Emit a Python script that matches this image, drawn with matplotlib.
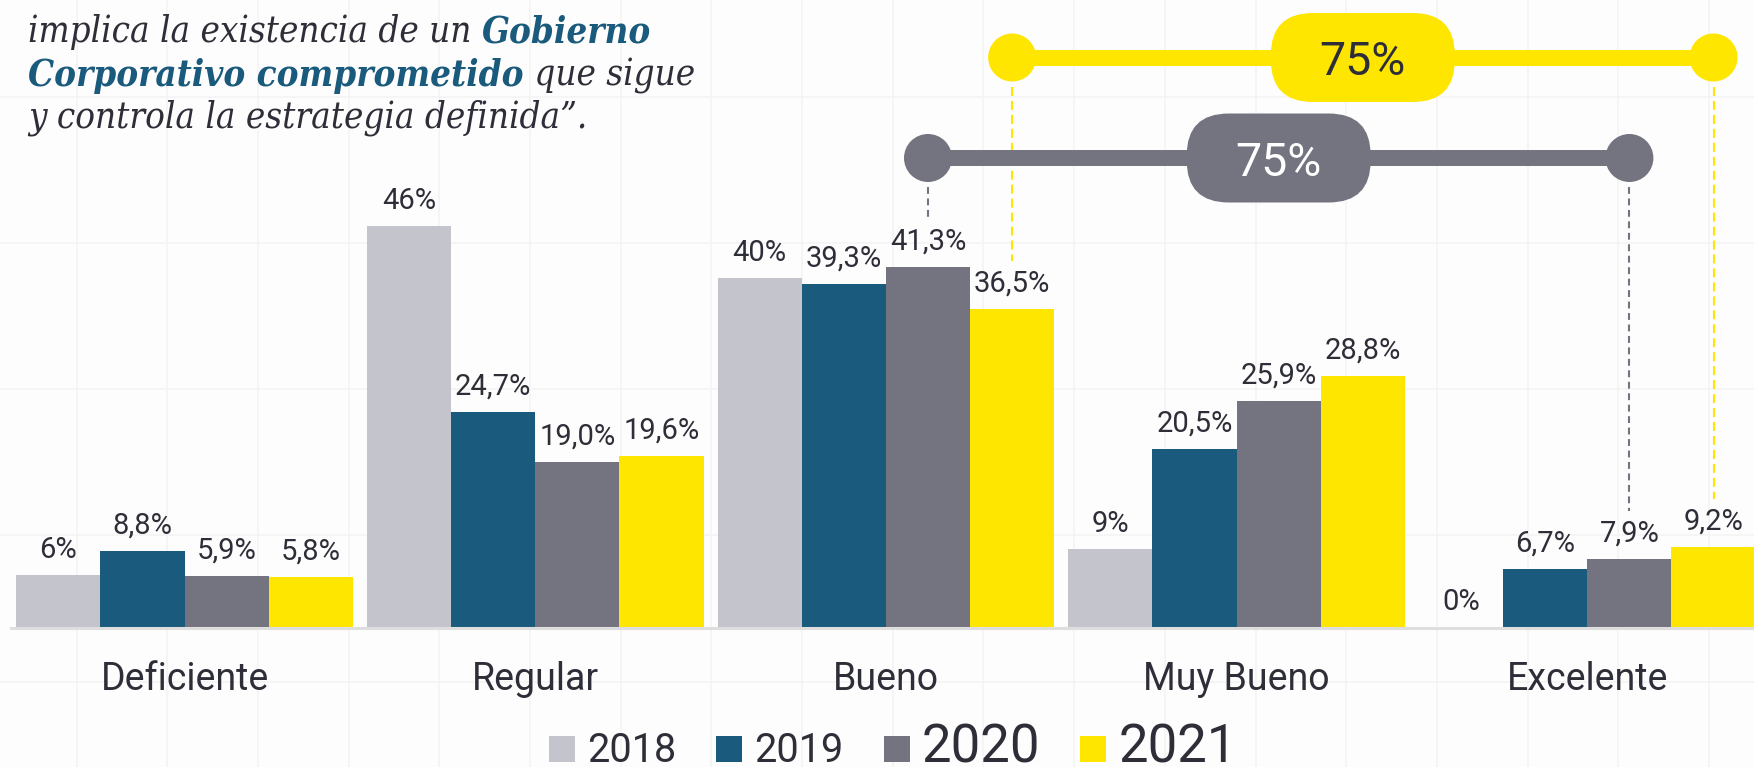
import matplotlib
matplotlib.use("Agg")
import matplotlib.pyplot as plt
from matplotlib.patches import FancyBboxPatch, Circle
import numpy as np

plt.rcParams['font.family'] = ['Roboto', 'DejaVu Sans']

# ---------------- data ----------------
categories = ["Deficiente", "Regular", "Bueno", "Muy Bueno", "Excelente"]
years = ["2018", "2019", "2020", "2021"]
v2018 = [6, 46, 40, 9, 0]
v2019 = [8.8, 24.7, 39.3, 20.5, 6.7]
v2020 = [5.9, 19.0, 41.3, 25.9, 7.9]
v2021 = [5.8, 19.6, 36.5, 28.8, 9.2]
label_decimals = [0, 1, 1, 1]
legend_sizes = [28.5, 28.5, 38, 38]
range_first, range_last = 2, 4          # Bueno .. Excelente

quote_lines = [
    [("implica la existencia de un ", False), ("Gobierno", True)],
    [("Corporativo comprometido", True), (" que sigue", False)],
    [("y controla la estrategia definida\u201d.", False)],
]

# ---------------- style ----------------
C = ['#C4C4CD', '#1A5A7C', '#747480', '#FFE600']
TXT = '#2E2E38'
BLUE = '#1A5A7C'
W, H = 1754, 767
base_px, ppu, ymax = 627.5, 8.73, 70

fig = plt.figure(figsize=(W / 100, H / 100), dpi=100, facecolor='#FDFDFD')

# background faint grid
bg = fig.add_axes([0, 0, 1, 1], zorder=0)
bg.set_xlim(0, W); bg.set_ylim(H, 0); bg.axis('off')
for yy in np.arange(96.5, H, 146.3):
    bg.axhline(yy, color='#F3F3F5', lw=1.1)
for xx in np.arange(76.5, W, 90.7):
    bg.axvline(xx, color='#F3F3F5', lw=1.1)

# main axes
ax = fig.add_axes([0, (H - base_px) / H, 1, ymax * ppu / H], zorder=1)
ax.set_facecolor('none')
ax.set_xlim(-0.5261, 4.4753)
ax.set_ylim(0, ymax)

x = np.arange(len(categories))
w = 0.24
offsets = (np.arange(4) - 1.5) * w
series = [v2018, v2019, v2020, v2021]
bars = []
for i, (vals, col, yr) in enumerate(zip(series, C, years)):
    b = ax.bar(x + offsets[i], vals, w, color=col, label=yr, linewidth=0)
    bars.append(b)
    for xi, v in zip(x + offsets[i], vals):
        txt = f"{v:.{label_decimals[i]}f}".replace('.', ',') + '%'
        ax.annotate(txt, (xi, v), xytext=(0, 12.5), textcoords='offset points',
                    ha='center', va='baseline', fontsize=21, color=TXT)

for s in ['top', 'left', 'right']:
    ax.spines[s].set_visible(False)
ax.spines['bottom'].set_color('#DEDEDF')
ax.spines['bottom'].set_linewidth(2.2)
ax.spines['bottom'].set_bounds(-0.495, 4.4753)
ax.set_yticks([])
ax.set_xticks(x, categories)
ax.tick_params(axis='x', length=0, pad=45, labelsize=27, labelcolor=TXT)
plt.setp(ax.get_xticklabels(), va='baseline')

# overlay in pixel coordinates
ov = fig.add_axes([0, 0, 1, 1], zorder=3)
ov.set_xlim(0, W); ov.set_ylim(H, 0); ov.axis('off')


def to_px(xd, yd):
    X, Y = ax.transData.transform((xd, yd))
    return X, H - Y


ranges = [
    # series index, line y (px), colour, text colour, dash pattern
    (3, 57.5, C[3], TXT, (4.3, 2.4)),
    (2, 158.0, C[2], 'white', (3.3, 2.2)),
]
for si, ly, col, tcol, dash in ranges:
    xl = x[range_first] + offsets[si]
    xr = x[range_last] + offsets[si]
    pl, _ = to_px(xl, 0)
    pr, _ = to_px(xr, 0)
    ov.plot([pl, pr], [ly, ly], color=col, lw=11.5, solid_capstyle='butt', zorder=2)
    for xd, px in ((xl, pl), (xr, pr)):
        ov.add_patch(Circle((px, ly), 24, color=col, zorder=3, lw=0))
        idx = int(round(xd - offsets[si]))
        _, top = to_px(xd, series[si][idx])
        ov.plot([px, px], [ly + 29, top - 48], color=col, lw=1.5,
                linestyle=(0, dash), zorder=1)
    cx = (pl + pr) / 2
    pw, ph = 184, 89
    ov.add_patch(FancyBboxPatch((cx - pw / 2, ly - ph / 2), pw, ph,
                                boxstyle="round,pad=0,rounding_size=42",
                                color=col, lw=0, zorder=4))
    total = sum(series[si][range_first:range_last + 1])
    ov.text(cx, ly + 17.5, f"{int(total + 0.5)}%", ha='center', va='baseline',
            fontsize=33.5, fontweight='normal', color=tcol, zorder=5)

# quote text (top-left)
renderer = fig.canvas.get_renderer()
qfam = ['DejaVu Serif Condensed', 'DejaVu Serif', 'Liberation Serif']


def qkw(bold, size):
    return dict(fontsize=size, family=qfam, style='italic', fontstretch='condensed',
                fontweight='bold' if bold else 'normal')


def seg_width(s, bold, size):
    t1 = ov.text(0, 0, s + "|", **qkw(bold, size))
    t2 = ov.text(0, 0, "|", **qkw(bold, size))
    wdt = t1.get_window_extent(renderer).width - t2.get_window_extent(renderer).width
    t1.remove(); t2.remove()
    return wdt


# fit the last (plain) line to its width in the reference layout
qsize = 20 * 559 / seg_width(quote_lines[2][0][0], False, 20)

baselines = [42.3, 86.0, 128.0]
for segs, by in zip(quote_lines, baselines):
    cxp = 28
    for s, bold in segs:
        ov.text(cxp, by, s, color=BLUE if bold else TXT, ha='left', va='baseline',
                **qkw(bold, qsize))
        cxp += seg_width(s, bold, qsize)

# legend
leg = fig.legend(handles=bars, labels=years, loc='lower left',
                 bbox_to_anchor=(0.3, 0.0), ncol=4, frameon=False,
                 prop={'family': 'Roboto', 'size': 28},
                 handlelength=0.668, handleheight=0.668, handletextpad=0.31,
                 columnspacing=1.03, borderpad=0, borderaxespad=0)
for t, s in zip(leg.get_texts(), legend_sizes):
    t.set_fontsize(s)
    t.set_color(TXT)
fig.canvas.draw()
hb = leg.legend_handles[0].get_window_extent(renderer)
dx = 549 - hb.x0
dy = (H - 762) - hb.y0
leg.set_bbox_to_anchor((0.3 + dx / W, 0.0 + dy / H), transform=fig.transFigure)

fig.savefig("out.png", dpi=100, facecolor=fig.get_facecolor())
